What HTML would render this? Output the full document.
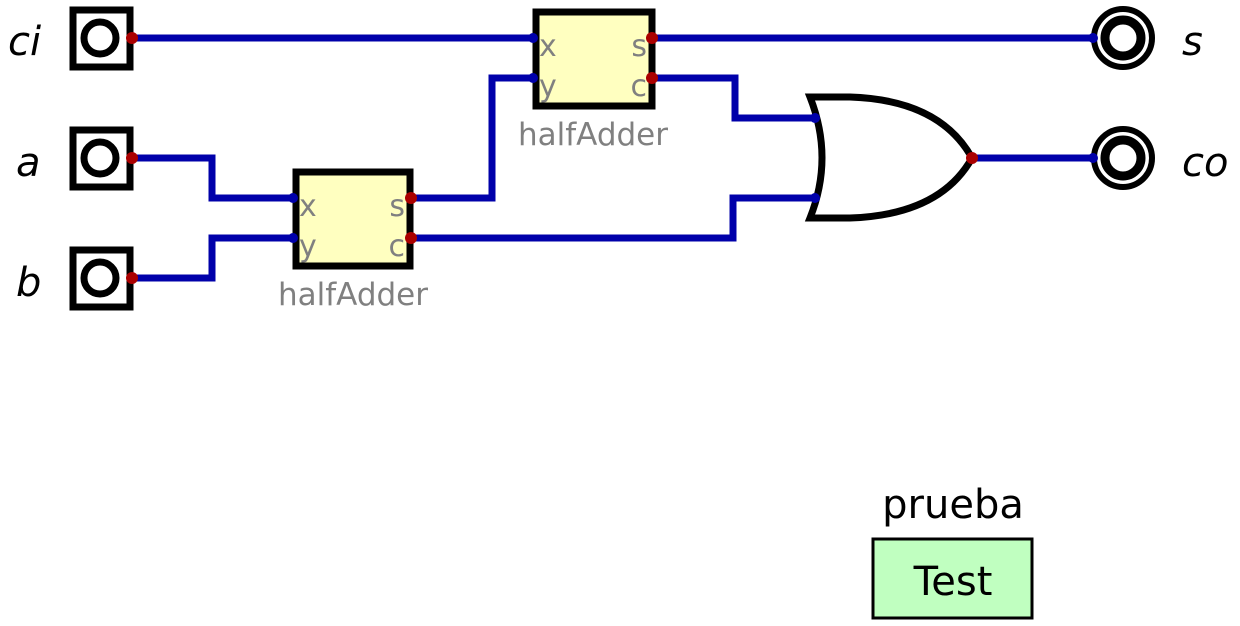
<!DOCTYPE html>
<html><head><meta charset="utf-8"><style>body{margin:0;background:#fff}svg{display:block}</style></head><body>
<svg width="1240" height="626" viewBox="0 0 1240 626" xmlns="http://www.w3.org/2000/svg" font-family="DejaVu Sans, Liberation Sans, sans-serif">
<g fill="none" stroke="#0000aa" stroke-width="7">
<path d="M133 38H533"/>
<path d="M133 158H212V198H293"/>
<path d="M133 278H212V238H293"/>
<path d="M410 198H492V78H533"/>
<path d="M652 38H1093"/>
<path d="M652 78H735V118H815"/>
<path d="M410 238H733V198H815"/>
<path d="M972 158H1093"/>
</g>
<g stroke="#000" stroke-width="7" fill="#fff">
<rect x="73" y="10" width="57" height="57"/>
<rect x="73" y="130" width="57" height="57"/>
<rect x="73" y="250" width="57" height="57"/>
<circle cx="100" cy="38" r="16"/>
<circle cx="100" cy="158" r="16"/>
<circle cx="100" cy="278" r="16"/>
<rect x="536" y="12" width="116" height="94" fill="#ffffc0"/>
<rect x="296" y="172" width="114" height="94" fill="#ffffc0"/>
<circle cx="1123" cy="38" r="29" stroke-width="6"/>
<circle cx="1123" cy="38" r="18" stroke-width="9"/>
<circle cx="1123" cy="158" r="29" stroke-width="6"/>
<circle cx="1123" cy="158" r="18" stroke-width="9"/>
<path d="M810 97Q834 158 810 218H850Q940 215 972 158Q940 100 850 97Z"/>
</g>
<g fill="#0000aa">
<circle cx="533" cy="38" r="5"/><circle cx="533" cy="78" r="5"/>
<circle cx="293" cy="198" r="5"/><circle cx="293" cy="238" r="5"/>
<circle cx="815" cy="118" r="5"/><circle cx="815" cy="198" r="5"/>
<circle cx="1093" cy="38" r="5"/><circle cx="1093" cy="158" r="5"/>
</g>
<g fill="#aa0000">
<circle cx="132" cy="38" r="6"/><circle cx="132" cy="158" r="6"/><circle cx="132" cy="278" r="6"/>
<circle cx="652" cy="38" r="6"/><circle cx="652" cy="78" r="6"/>
<circle cx="411" cy="198" r="6"/><circle cx="411" cy="238" r="6"/>
<circle cx="972" cy="158" r="6"/>
</g>
<g fill="#808080" font-size="30">
<text x="539" y="56">x</text><text x="539" y="96">y</text>
<text x="647" y="56" text-anchor="end">s</text><text x="647" y="96" text-anchor="end">c</text>
<text x="299" y="216">x</text><text x="299" y="256">y</text>
<text x="405" y="216" text-anchor="end">s</text><text x="405" y="256" text-anchor="end">c</text>
<text x="593" y="145" text-anchor="middle" font-size="31">halfAdder</text>
<text x="353" y="305" text-anchor="middle" font-size="31">halfAdder</text>
</g>
<g font-size="40" font-style="italic" fill="#000">
<text x="8" y="55">ci</text><text x="16" y="176">a</text><text x="16" y="296">b</text>
<text x="1182" y="55">s</text><text x="1182" y="176">co</text>
</g>
<text x="953" y="518" text-anchor="middle" font-size="40">prueba</text>
<rect x="873" y="539" width="159" height="79" fill="#c0ffc0" stroke="#000" stroke-width="3"/>
<text x="953" y="595" text-anchor="middle" font-size="40">Test</text>
</svg>
</body></html>
